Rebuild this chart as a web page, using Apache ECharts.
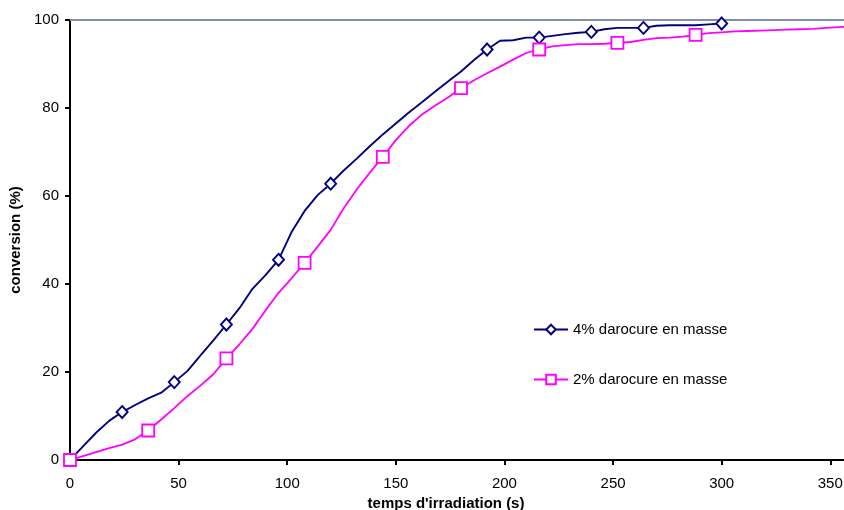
<!DOCTYPE html>
<html>
<head>
<meta charset="utf-8">
<script src="https://cdn.jsdelivr.net/npm/echarts@6/dist/echarts.min.js"></script>
<style>
  html, body { margin: 0; padding: 0; background: #fff; }
  #chart { width: 844px; height: 510px; }
</style>
</head>
<body>
<div id="chart"></div>
<script>
// Irradiation time (s) and conversion (%) for each photo-initiator load
const times4 = [0, 6, 12, 18, 24, 30, 36, 42, 48, 54, 60, 66, 72, 78, 84, 90, 96, 102, 108, 114,
  120, 126, 132, 138, 144, 150, 156, 162, 168, 174, 180, 186, 192, 198, 204, 210, 216, 222, 228, 234,
  240, 246, 252, 258, 264, 270, 276, 282, 288, 294, 300];
const conv4 = [0, 3.1, 6.2, 8.9, 10.9, 12.5, 14.0, 15.3, 17.7, 20.2, 23.7, 27.2, 30.8, 34.5, 38.9, 42.0, 45.5, 51.8, 56.6, 60.2,
  62.8, 65.8, 68.5, 71.3, 74.0, 76.5, 79.0, 81.3, 83.7, 86.0, 88.3, 90.9, 93.3, 95.3, 95.4, 96.0, 96.0, 96.4, 96.8, 97.1,
  97.3, 97.9, 98.2, 98.2, 98.2, 98.7, 98.8, 98.8, 98.8, 99.0, 99.2];
const marked4 = [0, 24, 48, 72, 96, 120, 192, 216, 240, 264, 300];

const times2 = [0, 6, 12, 18, 24, 30, 36, 42, 48, 54, 60, 66, 72, 78, 84, 90, 96, 102, 108, 114,
  120, 126, 132, 138, 144, 150, 156, 162, 168, 174, 180, 186, 192, 198, 204, 210, 216, 222, 228, 234,
  240, 246, 252, 258, 264, 270, 276, 282, 288, 294, 300, 306, 312, 318, 324, 330, 336, 342, 348, 354, 360];
const conv2 = [0, 0.9, 1.8, 2.7, 3.5, 4.7, 6.7, 9.2, 11.8, 14.5, 16.9, 19.5, 23.1, 26.3, 29.8, 34.0, 38.0, 41.3, 44.8, 48.5,
  52.3, 57.2, 61.5, 65.3, 68.9, 72.7, 75.9, 78.5, 80.5, 82.4, 84.5, 86.3, 87.9, 89.4, 91.0, 92.5, 93.3, 94.0, 94.3, 94.5,
  94.5, 94.6, 94.8, 95.0, 95.5, 95.9, 96.0, 96.2, 96.6, 97.0, 97.2, 97.4, 97.5, 97.6, 97.7, 97.8, 97.9, 98.0, 98.2, 98.4, 98.5];
const marked2 = [0, 36, 72, 108, 144, 180, 216, 252, 288];

const seriesNames = ['4% darocure en masse', '2% darocure en masse'];
const xTitle = "temps d'irradiation (s)";
const yTitle = 'conversion (%)';

// Points carry a symbol only at the sampled marker times
function buildPoints(times, values, marked) {
  return times.map((t, i) => marked.includes(t)
    ? { value: [t, values[i]] }
    : { value: [t, values[i]], symbol: 'none' });
}

const FONT = '"Liberation Sans", Arial, sans-serif';
const NAVY = '#000080';
const MAGENTA = '#ff00ff';

const chart = echarts.init(document.getElementById('chart'), null, { renderer: 'canvas' });

chart.setOption({
  animation: false,
  backgroundColor: '#ffffff',
  textStyle: { fontFamily: FONT, color: '#000' },
  grid: { left: 70, top: 20, right: -8, bottom: 50, containLabel: false, outerBoundsMode: 'none' },
  xAxis: [{
    type: 'value',
    min: 0,
    max: 360,
    interval: 50,
    name: xTitle,
    nameLocation: 'middle',
    nameGap: 32,
    nameTextStyle: { fontFamily: FONT, fontSize: 15, fontWeight: 'bold', color: '#000', padding: [0, 30, 0, 0] },
    axisLine: { lineStyle: { color: '#000', width: 2 } },
    axisTick: { show: true, inside: false, length: 5, lineStyle: { color: '#000', width: 2 } },
    axisLabel: { fontFamily: FONT, fontSize: 15, color: '#000', margin: 16, showMaxLabel: false },
    splitLine: { show: false }
  }, {
    type: 'value',
    position: 'top',
    min: 0,
    max: 360,
    interval: 50,
    axisLine: { show: true, lineStyle: { color: '#7f8db0', width: 2 } },
    axisTick: { show: false },
    axisLabel: { show: false },
    splitLine: { show: false }
  }],
  yAxis: {
    type: 'value',
    min: 0,
    max: 100,
    interval: 20,
    name: yTitle,
    nameLocation: 'middle',
    nameGap: 40,
    nameTextStyle: { fontFamily: FONT, fontSize: 15, fontWeight: 'bold', color: '#000' },
    axisLine: { show: true, lineStyle: { color: '#000', width: 2 } },
    axisTick: { show: true, inside: false, length: 5, lineStyle: { color: '#000', width: 2 } },
    axisLabel: { fontFamily: FONT, fontSize: 15, color: '#000', margin: 11 },
    splitLine: { show: false }
  },
  legend: {
    orient: 'vertical',
    left: 528,
    top: 317,
    itemWidth: 34,
    itemHeight: 12,
    itemGap: 35,
    textStyle: { fontFamily: FONT, fontSize: 15, color: '#000' },
    data: seriesNames
  },
  series: [{
    name: seriesNames[0],
    type: 'line',
    xAxisIndex: 0,
    data: buildPoints(times4, conv4, marked4),
    symbol: 'diamond',
    symbolSize: [11, 12],
    lineStyle: { color: NAVY, width: 1.9 },
    itemStyle: { color: '#fff', borderColor: NAVY, borderWidth: 1.9 },
    emphasis: { disabled: true }
  }, {
    name: seriesNames[1],
    type: 'line',
    xAxisIndex: 0,
    data: buildPoints(times2, conv2, marked2),
    symbol: 'rect',
    symbolSize: 12,
    lineStyle: { color: MAGENTA, width: 1.8 },
    itemStyle: { color: '#fff', borderColor: MAGENTA, borderWidth: 1.8 },
    emphasis: { disabled: true }
  }]
});
</script>
</body>
</html>
